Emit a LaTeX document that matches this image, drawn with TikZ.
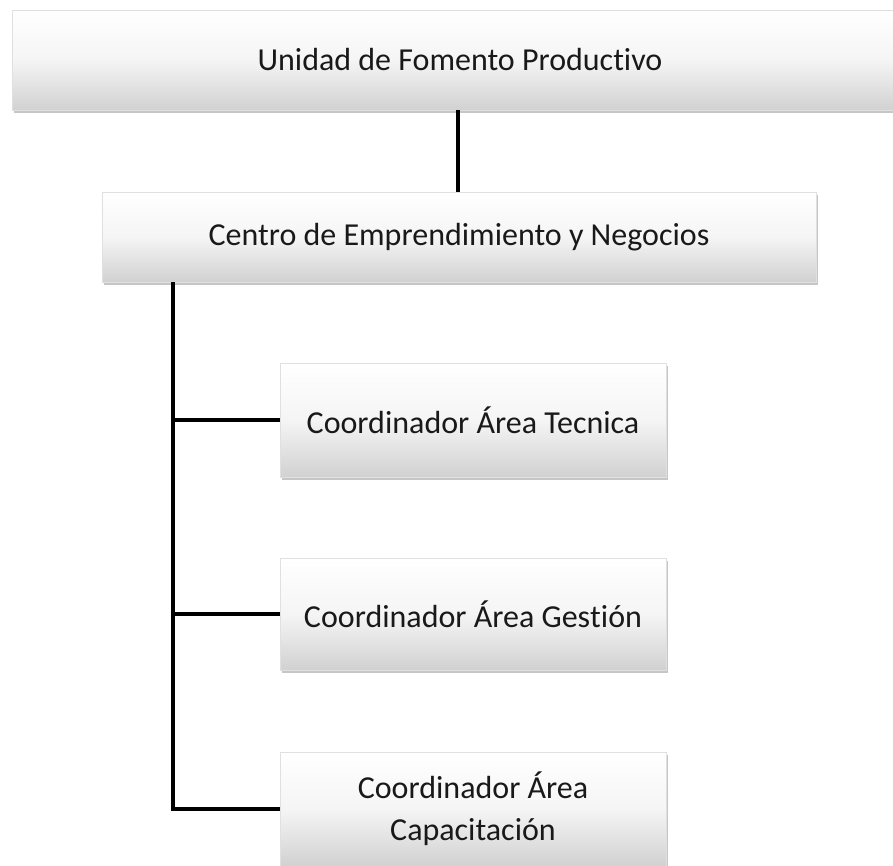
\documentclass[tikz,border=0pt]{standalone}
\usepackage{fontspec}
\setmainfont[Ligatures={NoCommon,NoContextual}]{Carlito}
\usetikzlibrary{shadows,calc}
\begin{document}
\begin{tikzpicture}[x=1pt,y=-1pt,
  orgbox/.style={rectangle, inner sep=0pt, align=center, text=black!90,
    top color=white, bottom color=black!18, middle color=white!96!black,
    draw=black!12, line width=0.4pt,
    drop shadow={opacity=0.45, shadow xshift=2pt, shadow yshift=-3pt},
    font=\fontsize{32}{42}\selectfont},
  conn/.style={line width=3.5pt, black}]
\useasboundingbox (0,0) rectangle (893,865);
\clip (0,0) rectangle (893,865);
\node[orgbox, minimum width=896pt, minimum height=100pt] (b1) at (460,60) {Unidad de Fomento Produc\kern0pt t\kern0pt ivo};
\node[orgbox, minimum width=714pt, minimum height=90pt] (b2) at (459,237) {Centro de Emprendimiento y Negocios};
\node[orgbox, minimum width=386pt, minimum height=114pt] (b3) at (473,420) {Coordinador Área Tecnica};
\node[orgbox, minimum width=386pt, minimum height=112pt] (b4) at (473,614) {Coordinador Área Ges\kern0pt t\kern0pt ión};
\node[orgbox, minimum width=386pt, minimum height=114pt] (b5) at (473,809) {Coordinador Área\\Capacitación};
\coordinate (v) at (458,0);
\coordinate (t) at (173,0);
\draw[conn] (v |- b1.south) -- (v |- b2.north);
\draw[conn] (t |- b2.south) |- (b5.west);
\draw[conn] (t |- b3.west) -- (b3.west);
\draw[conn] (t |- b4.west) -- (b4.west);
\end{tikzpicture}
\end{document}
